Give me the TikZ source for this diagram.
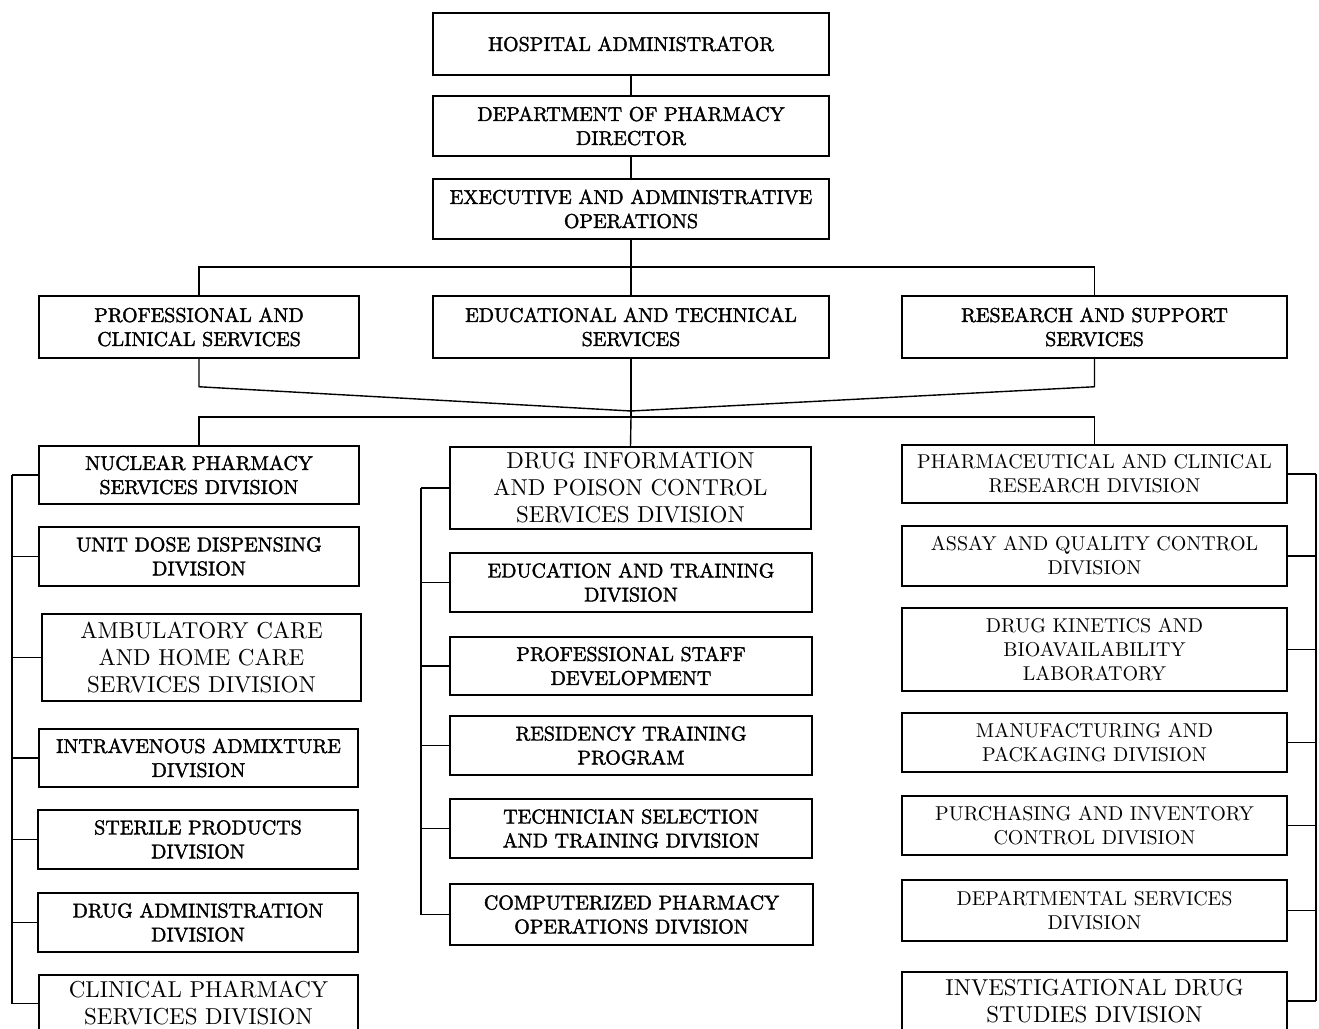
\documentclass[tikz,border=0pt]{standalone}
\usepackage{fontspec}
\newfontfamily\heavyfont{lmroman10-regular.otf}[FakeBold=1.8]
\newfontfamily\lightfont{lmroman10-regular.otf}
\tikzset{
  box/.style={draw, line width=1.5pt, rectangle, inner sep=0pt, align=center,
    font=\heavyfont\fontsize{20}{24}\selectfont},
  lbox/.style={box, font=\lightfont\fontsize{20}{24}\selectfont},
  bigbox/.style={box, font=\lightfont\fontsize{23}{27}\selectfont},
  conn/.style={draw, line width=1.4pt}
}
\newcommand{\orgbox}[7]{\node[#1, minimum width={#4-#3}, minimum height={#6-#5}] (#2) at ({(#3+#4)/2},{(#5+#6)/2}) {#7};}
\begin{document}
\begin{tikzpicture}[x=1pt,y=-1pt]
\useasboundingbox (0,0) rectangle (1319,1028);
\clip (0,0) rectangle (1319,1028);
% top chain
\orgbox{box}{ha}{433}{829}{13}{75}{HOSPITAL ADMINISTRATOR}
\orgbox{box}{dp}{433}{829}{96}{156}{DEPARTMENT OF PHARMACY\\DIRECTOR}
\orgbox{box}{ex}{433}{829}{179}{239}{EXECUTIVE AND ADMINISTRATIVE\\OPERATIONS}
% services
\orgbox{box}{pc}{39}{359}{296}{358}{PROFESSIONAL AND\\CLINICAL SERVICES}
\orgbox{box}{et}{433}{829}{296}{358}{EDUCATIONAL AND TECHNICAL\\SERVICES}
\orgbox{box}{rs}{902}{1287}{296}{358}{RESEARCH AND SUPPORT\\SERVICES}
% left column
\orgbox{box}{l1}{39}{359}{446}{504}{NUCLEAR PHARMACY\\SERVICES DIVISION}
\orgbox{box}{l2}{39}{359}{527}{586}{UNIT DOSE DISPENSING\\DIVISION}
\orgbox{bigbox}{l3}{42}{361}{614}{701}{AMBULATORY CARE\\AND HOME CARE\\SERVICES DIVISION}
\orgbox{box}{l4}{39}{358}{729}{787}{INTRAVENOUS ADMIXTURE\\DIVISION}
\orgbox{box}{l5}{38}{358}{810}{869}{STERILE PRODUCTS\\DIVISION}
\orgbox{box}{l6}{38}{358}{893}{952}{DRUG ADMINISTRATION\\DIVISION}
\orgbox{bigbox}{l7}{39}{358}{975}{1032}{CLINICAL PHARMACY\\SERVICES DIVISION}
% middle column
\orgbox{bigbox}{m1}{450}{811}{447}{529}{DRUG INFORMATION\\AND POISON CONTROL\\SERVICES DIVISION}
\orgbox{box}{m2}{450}{812}{553}{612}{EDUCATION AND TRAINING\\DIVISION}
\orgbox{box}{m3}{450}{812}{637}{695}{PROFESSIONAL STAFF\\DEVELOPMENT}
\orgbox{box}{m4}{450}{812}{716}{775}{RESIDENCY TRAINING\\PROGRAM}
\orgbox{box}{m5}{450}{812}{799}{858}{TECHNICIAN SELECTION\\AND TRAINING DIVISION}
\orgbox{box}{m6}{450}{813}{884}{945}{COMPUTERIZED PHARMACY\\OPERATIONS DIVISION}
% right column
\orgbox{lbox}{r1}{902}{1287}{445}{503}{PHARMACEUTICAL AND CLINICAL\\RESEARCH DIVISION}
\orgbox{lbox}{r2}{902}{1287}{526}{586}{ASSAY AND QUALITY CONTROL\\DIVISION}
\orgbox{lbox}{r3}{902}{1287}{608}{691}{DRUG KINETICS AND\\BIOAVAILABILITY\\LABORATORY}
\orgbox{lbox}{r4}{902}{1287}{713}{772}{MANUFACTURING AND\\PACKAGING DIVISION}
\orgbox{lbox}{r5}{902}{1287}{796}{855}{PURCHASING AND INVENTORY\\CONTROL DIVISION}
\orgbox{lbox}{r6}{902}{1287}{880}{941}{DEPARTMENTAL SERVICES\\DIVISION}
\orgbox{bigbox}{r7}{902}{1287}{972}{1030}{INVESTIGATIONAL DRUG\\STUDIES DIVISION}
% coordinates
\coordinate (bus1) at (631,267);
\coordinate (conv) at (631,411);
\coordinate (bus2) at (631,417);
\coordinate (lb) at (12,0);
\coordinate (mb) at (421,0);
\coordinate (rb) at (1316,0);
% top connectors
\draw[conn] (ha.south) -- (dp.north);
\draw[conn] (dp.south) -- (ex.north);
\draw[conn] (ex.south) -- (bus1);
\draw[conn] (pc.north) -- (pc.north |- bus1) -- (rs.north |- bus1) -- (rs.north);
\draw[conn] (bus1) -- (et.north);
% convergence
\draw[conn] (pc.south) -- ++(0,28) -- (conv);
\draw[conn] (rs.south) -- ++(0,28) -- (conv);
\draw[conn] (et.south) -- (bus2);
\draw[conn] (l1.north) -- (l1.north |- bus2) -- (r1.north |- bus2) -- (r1.north);
\draw[conn] (bus2) -- (m1.north);
% left bus
\draw[conn] (l1.west -| lb) -- (l7.west -| lb);
\foreach \n in {l1,l2,l3,l4,l5,l6,l7} \draw[conn] (\n.west) -- (\n.west -| lb);
% middle bus
\draw[conn] (m1.west -| mb) -- (m6.west -| mb);
\foreach \n in {m1,m2,m3,m4,m5,m6} \draw[conn] (\n.west) -- (\n.west -| mb);
% right bus
\draw[conn] (r1.east -| rb) -- (r7.east -| rb);
\foreach \n in {r1,r2,r3,r4,r5,r6,r7} \draw[conn] (\n.east) -- (\n.east -| rb);
\end{tikzpicture}
\end{document}
